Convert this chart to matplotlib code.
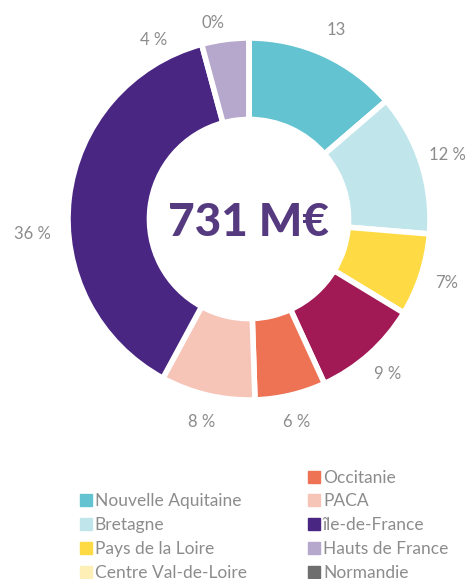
import matplotlib
matplotlib.use('agg')
import matplotlib.pyplot as plt
from matplotlib.lines import Line2D
import numpy as np

plt.rcParams['font.family'] = ['Lato', 'DejaVu Sans']

# slices clockwise from the top
regions = ['Nouvelle Aquitaine', 'Bretagne', 'Pays de la Loire', 'Centre Val-de-Loire',
           '', 'Occitanie', 'PACA', 'île-de-France', 'Hauts de France', 'Normandie']
values = [13, 12, 7, 0, 9, 6, 8, 36, 4, 0]
labels = ['13', '12 %', '7%', '', '9 %', '6 %', '8 %', '36 %', '4 %', '0%']
colors = ['#63c3d1', '#c0e6ec', '#fedb45', '#fdefb5', '#a11a55', '#ee7354',
          '#f7c5b8', '#4a2683', '#b6a7cc', '#6e6e6e']
total_txt = '731 M€'

# legend order as in the picture (first slot blank)
legend_order = [None, 'Nouvelle Aquitaine', 'Bretagne', 'Pays de la Loire', 'Centre Val-de-Loire',
                'Occitanie', 'PACA', 'île-de-France', 'Hauts de France', 'Normandie']

grey = '#8c8c8c'
W, H = 471, 579
fig = plt.figure(figsize=(W / 100, H / 100), dpi=100)
cx, cy, R = 249, 360, 181
a = 1.2
side = 2 * a * R
ax = fig.add_axes([(cx - side / 2) / W, (cy - side / 2) / H, side / W, side / H])

wedges, texts = ax.pie(values, colors=colors, startangle=90, counterclock=False,
                       labels=labels, labeldistance=1.15,
                       wedgeprops=dict(width=0.45, edgecolor='white', linewidth=4),
                       textprops=dict(color=grey, fontsize=12))
for t in texts:
    t.set_ha('center')
    t.set_va('center')

# labels pushed aside so they do not collide (angle clockwise from top, radius)
moved = {'36 %': (266, 1.2), '4 %': (-28, 1.12), '0%': (-10.5, 1.1)}
for t in texts:
    if t.get_text() in moved:
        ang, r = moved[t.get_text()]
        th = np.radians(90 - ang)
        t.set_position((r * np.cos(th), r * np.sin(th)))

ax.text(0, -0.02, total_txt, ha='center', va='center', fontsize=33,
        fontweight='black', color='#553a80')
ax.set_xlim(-a, a)
ax.set_ylim(-a, a)
ax.set_aspect('equal')
ax.axis('off')

handles = []
for name in legend_order:
    if name is None:
        handles.append(Line2D([], [], linestyle='none', marker='s', markersize=0, color='white'))
        continue
    c = colors[regions.index(name)]
    handles.append(Line2D([], [], linestyle='none', marker='s', markersize=9,
                          markerfacecolor=c, markeredgecolor=c))
leg = fig.legend(handles, [n if n else '' for n in legend_order], ncol=2,
                 loc='upper left', bbox_to_anchor=(72 / W, 1 - 461 / H),
                 frameon=False, fontsize=12.5, handlelength=0.6, handletextpad=0.2,
                 columnspacing=3.6, labelspacing=0.45, borderpad=0)
for t in leg.get_texts():
    t.set_color(grey)

fig.savefig('out.png', dpi=100)
